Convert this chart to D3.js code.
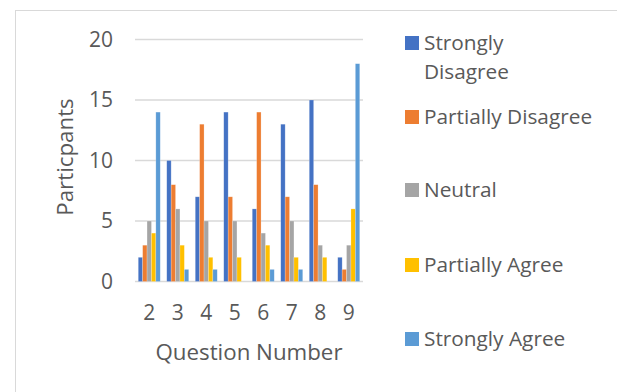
<!DOCTYPE html>
<html><head><meta charset="utf-8">
<script src="https://cdn.jsdelivr.net/npm/d3@7"></script>
<style>
html,body{margin:0;padding:0;background:#fff;}
svg text{font-family:"Open Sans",sans-serif;fill:#595959;}
</style></head>
<body><svg id="chart" width="617" height="392"></svg>
<script>
const questions = ["2","3","4","5","6","7","8","9"];
const seriesNames = ["Strongly Disagree","Partially Disagree","Neutral","Partially Agree","Strongly Agree"];
const stronglyDisagree = [2,10,7,14,6,13,15,2];
const partiallyDisagree = [3,8,13,7,14,7,8,1];
const neutral = [5,6,5,5,4,5,3,3];
const partiallyAgree = [4,3,2,2,3,2,2,6];
const stronglyAgree = [14,1,1,0,1,1,0,18];
const yTicks = [0,5,10,15,20];
const colors = ["#4472C4","#ED7D31","#A5A5A5","#FFC000","#5B9BD5"];

const seriesValues = [stronglyDisagree, partiallyDisagree, neutral, partiallyAgree, stronglyAgree];
const svg = d3.select("#chart");

// frame
svg.append("rect").attr("x",15.5).attr("y",10.5).attr("width",640).attr("height",420)
  .attr("fill","none").attr("stroke","#d9d9d9").attr("stroke-width",1);

const pLeft=135, pRight=363, pTop=39.5, pBottom=281.5;
const x = d3.scaleBand().domain(questions).range([pLeft,pRight]).paddingInner(0).paddingOuter(0);
const xs = d3.scaleBand().domain(seriesNames).range([0,x.bandwidth()]).paddingInner(0).paddingOuter(0.74);
const y = d3.scaleLinear().domain([0,20]).range([pBottom,pTop]);

// gridlines
svg.append("g").selectAll("line").data(yTicks).join("line")
  .attr("x1",pLeft).attr("x2",pRight)
  .attr("y1",d=>y(d)).attr("y2",d=>y(d))
  .attr("stroke","#d9d9d9").attr("stroke-width",1.5);

// y tick labels
svg.append("g").selectAll("text").data(yTicks).join("text")
  .attr("x",113).attr("y",d=>y(d)).attr("dy","0.35em")
  .attr("text-anchor","end").attr("font-size",21).text(d=>d);

// bars
const groups = svg.append("g").selectAll("g").data(seriesNames).join("g")
  .attr("fill",(d,i)=>colors[i]);
groups.selectAll("rect").data((s,i)=>seriesValues[i].map((v,j)=>({q:questions[j],v,s}))).join("rect")
  .attr("x",d=>x(d.q)+xs(d.s))
  .attr("width",xs.bandwidth())
  .attr("y",d=>y(d.v))
  .attr("height",d=>y(0)-y(d.v))
  .attr("stroke","#ffffff").attr("stroke-opacity",0.35).attr("stroke-width",0.6);

// x tick labels
svg.append("g").selectAll("text").data(questions).join("text")
  .attr("x",d=>x(d)+x.bandwidth()/2).attr("y",313).attr("dy","0.35em")
  .attr("text-anchor","middle").attr("font-size",21).text(d=>d);

// axis titles
svg.append("text").attr("x",249).attr("y",352).attr("dy","0.35em")
  .attr("text-anchor","middle").attr("font-size",22.3).text("Question Number");
svg.append("text").attr("transform","translate(65,157) rotate(-90)").attr("dy","0.35em")
  .attr("text-anchor","middle").attr("font-size",22.3).text("Particpants");

// legend
const legendY = [43,117,190,265,339];
const leg = svg.append("g").selectAll("g").data(seriesNames).join("g")
  .attr("transform",(d,i)=>`translate(405,${legendY[i]})`);
leg.append("rect").attr("x",0).attr("y",-7).attr("width",14).attr("height",14).attr("fill",(d,i)=>colors[i]);
leg.append("text").attr("x",19).attr("y",0).attr("dy","0.35em").attr("font-size",20.8)
  .each(function(d){
    const t=d3.select(this);
    if(d==="Strongly Disagree"){
      t.append("tspan").attr("x",19).text("Strongly");
      t.append("tspan").attr("x",19).attr("dy",29).text("Disagree");
    } else t.text(d);
  });
</script></body></html>
